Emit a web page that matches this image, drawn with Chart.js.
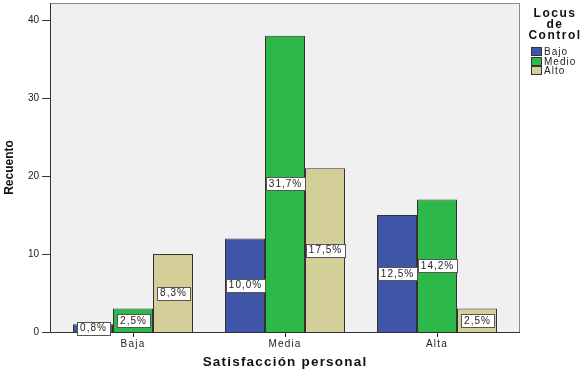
<!DOCTYPE html>
<html>
<head>
<meta charset="utf-8">
<script src="https://cdn.jsdelivr.net/npm/chart.js@4/dist/chart.umd.min.js"></script>
<style>
body { margin: 0; background: #fff; }
</style>
</head>
<body>
<canvas id="bar-chart" width="582" height="369"></canvas>
<script>
// Data (counts)
const categories = ["Baja", "Media", "Alta"];
const seriesNames = ["Bajo", "Medio", "Alto"];
const bajo = [1, 12, 15];
const medio = [3, 38, 17];
const alto = [10, 21, 3];
const yTicks = [0, 10, 20, 30, 40];
const legendTitle = ["Locus", "de", "Control"];

const colors = ["#3E55A8", "#2DB94A", "#D4CF98"];
const font = "'Liberation Sans', Arial, sans-serif";

const total = [...bajo, ...medio, ...alto].reduce((a, b) => a + b, 0);
const pct = v => (v / total * 100).toFixed(1).replace('.', ',') + '%';

// frame, % boxes, y tick marks and the side legend
const spssLook = {
    id: 'spssLook',
    beforeDraw(chart) {
        const {ctx, chartArea: a} = chart;
        ctx.letterSpacing = '0px';
        ctx.fillStyle = '#F0F0F0';
        ctx.fillRect(a.left - 7, a.top, a.right - a.left + 14, a.bottom - a.top);
    },
    beforeDatasetsDraw(chart) {
        const {ctx, chartArea: a} = chart;
        ctx.save();
        ctx.lineWidth = 1;
        ctx.strokeStyle = '#8a8a8a';
        ctx.beginPath();
        ctx.moveTo(a.left - 7, a.top + 0.5);
        ctx.lineTo(a.right + 6.5, a.top + 0.5);
        ctx.lineTo(a.right + 6.5, a.bottom);
        ctx.stroke();
        ctx.strokeStyle = '#333';
        ctx.beginPath();
        ctx.moveTo(a.left - 6.5, a.top);
        ctx.lineTo(a.left - 6.5, a.bottom + 0.5);
        ctx.lineTo(a.right + 7, a.bottom + 0.5);
        ctx.stroke();
        ctx.restore();
    },
    afterDatasetsDraw(chart) {
        const ctx = chart.ctx;
        ctx.save();
        ctx.font = `10px ${font}`;
        ctx.letterSpacing = '1px';
        ctx.textAlign = 'center';
        ctx.textBaseline = 'middle';
        ctx.lineWidth = 1;
        chart.data.datasets.forEach((ds, i) => {
            chart.getDatasetMeta(i).data.forEach((bar, j) => {
                const txt = pct(ds.data[j]);
                const w = Math.round(ctx.measureText(txt).width + 6);
                const h = 13;
                const cy = (bar.y + bar.base) / 2;
                const bx = Math.round(bar.x - w / 2) + 0.5;
                const by = Math.round(cy - h / 2) + 0.5;
                ctx.fillStyle = '#fff';
                ctx.fillRect(bx, by, w, h);
                ctx.strokeStyle = '#555';
                ctx.strokeRect(bx, by, w, h);
                ctx.fillStyle = '#222';
                ctx.fillText(txt, bar.x + 0.5, cy + 0.5);
            });
        });
        ctx.restore();
        // spacing for the x-axis labels and title drawn after the bars
        ctx.letterSpacing = '1.2px';
    },
    afterDraw(chart) {
        const {ctx, chartArea: a} = chart;
        const y = chart.scales.y;
        ctx.save();
        ctx.letterSpacing = '0px';
        ctx.strokeStyle = '#333';
        ctx.lineWidth = 1;
        y.ticks.forEach(t => {
            const py = Math.round(y.getPixelForValue(t.value)) + 0.5;
            ctx.beginPath();
            ctx.moveTo(a.left - 15, py);
            ctx.lineTo(a.left - 7, py);
            ctx.stroke();
        });

        ctx.fillStyle = '#111';
        ctx.textAlign = 'center';
        ctx.textBaseline = 'middle';
        ctx.font = `bold 12px ${font}`;
        ctx.letterSpacing = '1.5px';
        legendTitle.forEach((t, k) => ctx.fillText(t, 555, 14 + 11 * k));

        ctx.font = `10px ${font}`;
        ctx.letterSpacing = '1px';
        ctx.textAlign = 'left';
        seriesNames.forEach((n, k) => {
            const top = Math.round(47 + 9.5 * k);
            ctx.fillStyle = colors[k];
            ctx.fillRect(531.5, top + 0.5, 10, 8);
            ctx.strokeStyle = '#333';
            ctx.strokeRect(531.5, top + 0.5, 10, 8);
            ctx.fillStyle = '#222';
            ctx.fillText(n, 544, top + 5);
        });
        ctx.restore();
    }
};

new Chart(document.getElementById("bar-chart"), {
    type: 'bar',
    data: {
        labels: categories,
        datasets: [bajo, medio, alto].map((vals, i) => ({
            label: seriesNames[i],
            data: vals,
            backgroundColor: colors[i],
            borderColor: '#333',
            borderWidth: 1,
            categoryPercentage: 120 / 152,
            barPercentage: 1
        }))
    },
    options: {
        responsive: false,
        animation: false,
        events: [],
        layout: { padding: { top: 3, right: 69, left: 0, bottom: 0 } },
        plugins: {
            legend: { display: false },
            tooltip: { enabled: false }
        },
        scales: {
            x: {
                offset: true,
                grid: { display: true, drawOnChartArea: false, drawTicks: true, tickLength: 5, offset: false, color: '#333', z: 1 },
                border: { display: false },
                ticks: { color: '#222', font: { family: font, size: 10 }, padding: 1, z: 1 },
                title: {
                    display: true,
                    text: 'Satisfacción personal',
                    color: '#111',
                    font: { family: font, size: 13.5, weight: 'bold', lineHeight: 1 },
                    padding: 0
                },
                afterFit(s) { s.height = 37; }
            },
            y: {
                min: 0,
                max: 42.2,
                afterBuildTicks(s) { s.ticks = yTicks.map(v => ({ value: v })); },
                grid: { display: false, drawTicks: false },
                border: { display: false },
                ticks: { color: '#222', font: { family: font, size: 10 }, padding: 18 },
                title: {
                    display: true,
                    text: 'Recuento',
                    color: '#111',
                    font: { family: font, size: 12, weight: 'bold' },
                    padding: { top: 2, bottom: 0 }
                },
                afterFit(s) {
                    s.width = 57;
                    s.paddingTop = 0;
                    s.paddingBottom = 0;
                }
            }
        }
    },
    plugins: [spssLook]
});
</script>
</body>
</html>
